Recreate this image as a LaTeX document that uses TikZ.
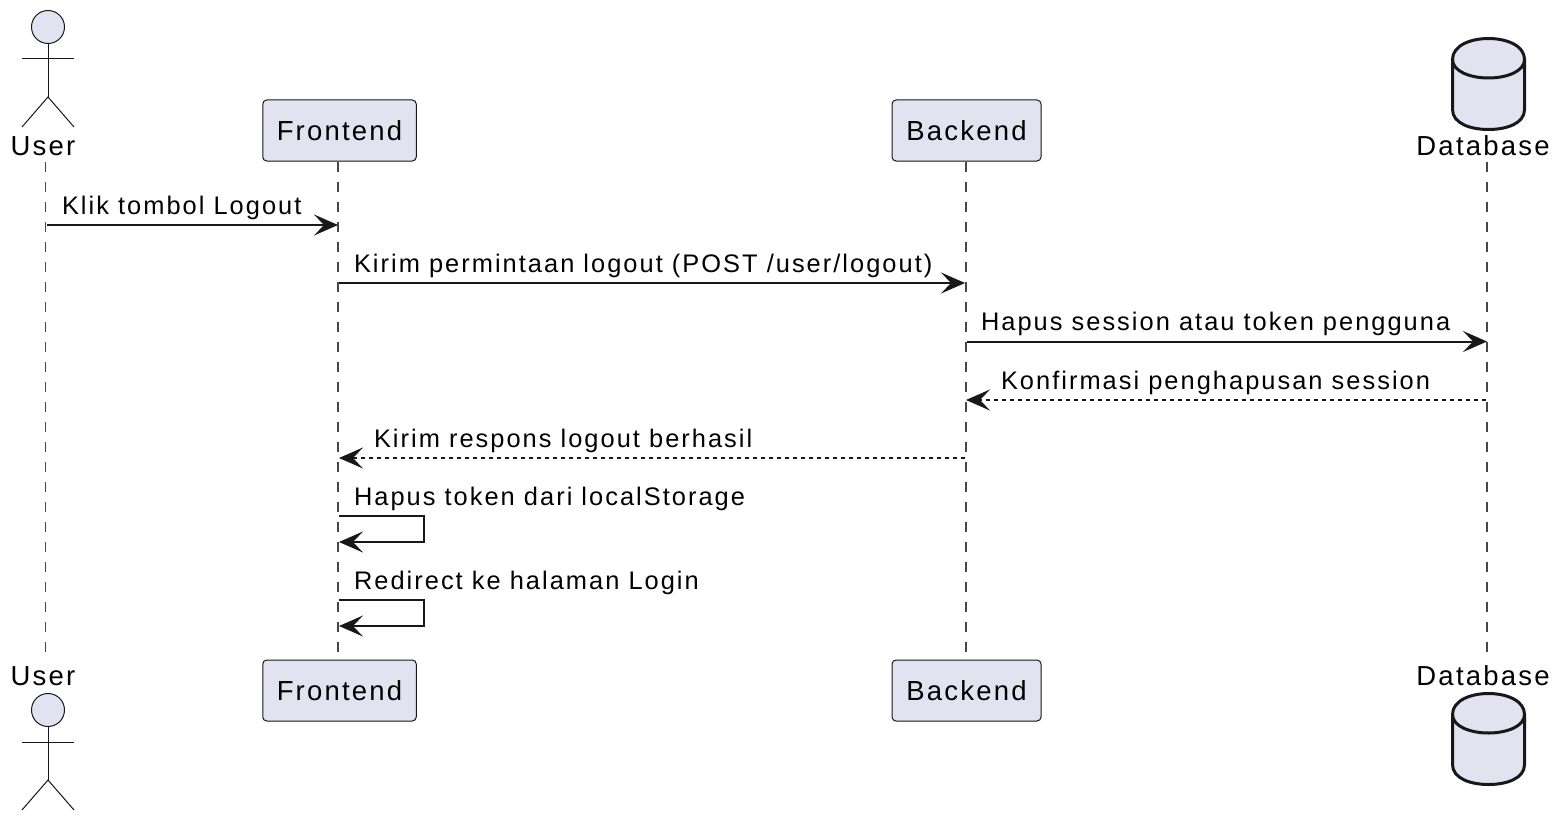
\documentclass[tikz,border=0pt]{standalone}
\usepackage{fontspec}
\setmainfont[LetterSpace=8,Kerning=Off]{Liberation Sans}
\usetikzlibrary{arrows.meta}
\definecolor{pfill}{HTML}{E2E2F0}
\definecolor{pline}{HTML}{181818}
\tikzset{
  x=1pt,y=-1pt,
  txt/.style={inner sep=0pt,outer sep=0pt,text=black,font=\fontsize{27.5}{30}\selectfont},
  msglabel/.style={txt,anchor=base west,font=\fontsize{25.4}{30}\selectfont},
  namelabel/.style={txt,anchor=base},
  partbox/.style={draw=pline,fill=pfill,line width=1pt,rounded corners=4pt,minimum height=61pt,inner sep=0pt,font=\fontsize{27.5}{30}\selectfont,text=black},
  lifeline/.style={draw=pline!80,line width=1.2pt,dash pattern=on 10pt off 10pt},
  tipA/.style={-{Stealth[length=24pt,width=21pt,inset=10pt,fill=pline]}},
  msg/.style={draw=pline,line width=2pt,tipA,shorten >=0pt},
  reply/.style={msg,dash pattern=on 4pt off 4pt},
  actorline/.style={draw=pline,line width=1pt},
  dbline/.style={draw=pline,line width=3pt}
}
\newcommand{\actorfig}[2]{%
  \fill[pfill] (#1,#2) circle[radius=16.5pt];
  \draw[actorline] (#1,#2) circle[radius=16.5pt];
  \draw[actorline] (#1,#2+16.5) -- (#1,#2+70);
  \draw[actorline] (#1-26,#2+32) -- (#1+26,#2+32);
  \draw[actorline] (#1-26,#2+100) -- (#1,#2+70) -- (#1+26,#2+100);
}
\newcommand{\dbfig}[2]{%
  \draw[dbline,fill=pfill] (#1-36,#2+21) .. controls (#1-36,#2+7) and (#1-18,#2) .. (#1,#2) .. controls (#1+18,#2) and (#1+36,#2+7) .. (#1+36,#2+21) -- (#1+36,#2+71) .. controls (#1+36,#2+85) and (#1+18,#2+91) .. (#1,#2+91) .. controls (#1-18,#2+91) and (#1-36,#2+85) .. (#1-36,#2+71) -- cycle;
  \draw[dbline] (#1-36,#2+21) .. controls (#1-36,#2+33) and (#1-18,#2+39.5) .. (#1,#2+39.5) .. controls (#1+18,#2+39.5) and (#1+36,#2+33) .. (#1+36,#2+21);
}
\begin{document}
\begin{tikzpicture}
\useasboundingbox (0,0) rectangle (1562,824);
% lifeline ends
\coordinate (ut) at (45.5,162); \coordinate (ub) at (45.5,654);
\coordinate (ft) at (338,162);  \coordinate (fb) at (338,660);
\coordinate (bt) at (966,162);  \coordinate (bb) at (966,660);
\coordinate (dt) at (1487,162); \coordinate (db) at (1487,654);
\draw[lifeline] (ut) -- (ub);
\draw[lifeline] (ft) -- (fb);
\draw[lifeline] (bt) -- (bb);
\draw[lifeline] (dt) -- (db);
% participants
\actorfig{48}{27}
\actorfig{48}{710}
\dbfig{1488.5}{38.5}
\dbfig{1488.5}{693.5}
\node[namelabel] (userT) at (43,155) {User};
\node[namelabel] (userB) at (43,685) {User};
\node[namelabel] (dbT) at (1483,155) {Database};
\node[namelabel] (dbB) at (1483,685) {Database};
\node[partbox,minimum width=153.5pt] (frontT) at (339.5,130.5) {Frontend};
\node[partbox,minimum width=149pt] (backT) at (966.5,130.5) {Backend};
\node[partbox,minimum width=153.5pt] (frontB) at (339.5,690.5) {Frontend};
\node[partbox,minimum width=149pt] (backB) at (966.5,690.5) {Backend};
% message anchors
\coordinate (m1a) at (47,225);  \coordinate (m1b) at (338,225);
\coordinate (m2a) at (339,283); \coordinate (m2b) at (965,283);
\coordinate (m3a) at (967,341.5); \coordinate (m3b) at (1487,341.5);
\coordinate (m4a) at (1486,400); \coordinate (m4b) at (966,400);
\coordinate (m5a) at (965,458); \coordinate (m5b) at (339,458);
\coordinate (m6a) at (339,516); \coordinate (m6c) at (424,516); \coordinate (m6d) at (424,542); \coordinate (m6b) at (339,542);
\coordinate (m7a) at (339,600); \coordinate (m7c) at (424,600); \coordinate (m7d) at (424,626); \coordinate (m7b) at (339,626);
% messages
\draw[msg] (m1a) -- (m1b);
\draw[msg] (m2a) -- (m2b);
\draw[msg] (m3a) -- (m3b);
\draw[reply] (m4a) -- (m4b);
\draw[reply] (m5a) -- (m5b);
\draw[msg] (m6a) -- (m6c) -- (m6d) -- (m6b);
\draw[msg] (m7a) -- (m7c) -- (m7d) -- (m7b);
% labels
\node[msglabel] (l1) at (62,214.5) {Klik tombol Logout};
\node[msglabel] (l2) at (354,272.5) {Kirim permintaan logout (POST /user/logout)};
\node[msglabel] (l3) at (981,330.5) {Hapus session atau token pengguna};
\node[msglabel] (l4) at (1001,389.5) {Konfirmasi penghapusan session};
\node[msglabel] (l5) at (374,447.5) {Kirim respons logout berhasil};
\node[msglabel] (l6) at (354,505.5) {Hapus token dari localStorage};
\node[msglabel] (l7) at (354,589.5) {Redirect ke halaman Login};
\end{tikzpicture}
\end{document}
